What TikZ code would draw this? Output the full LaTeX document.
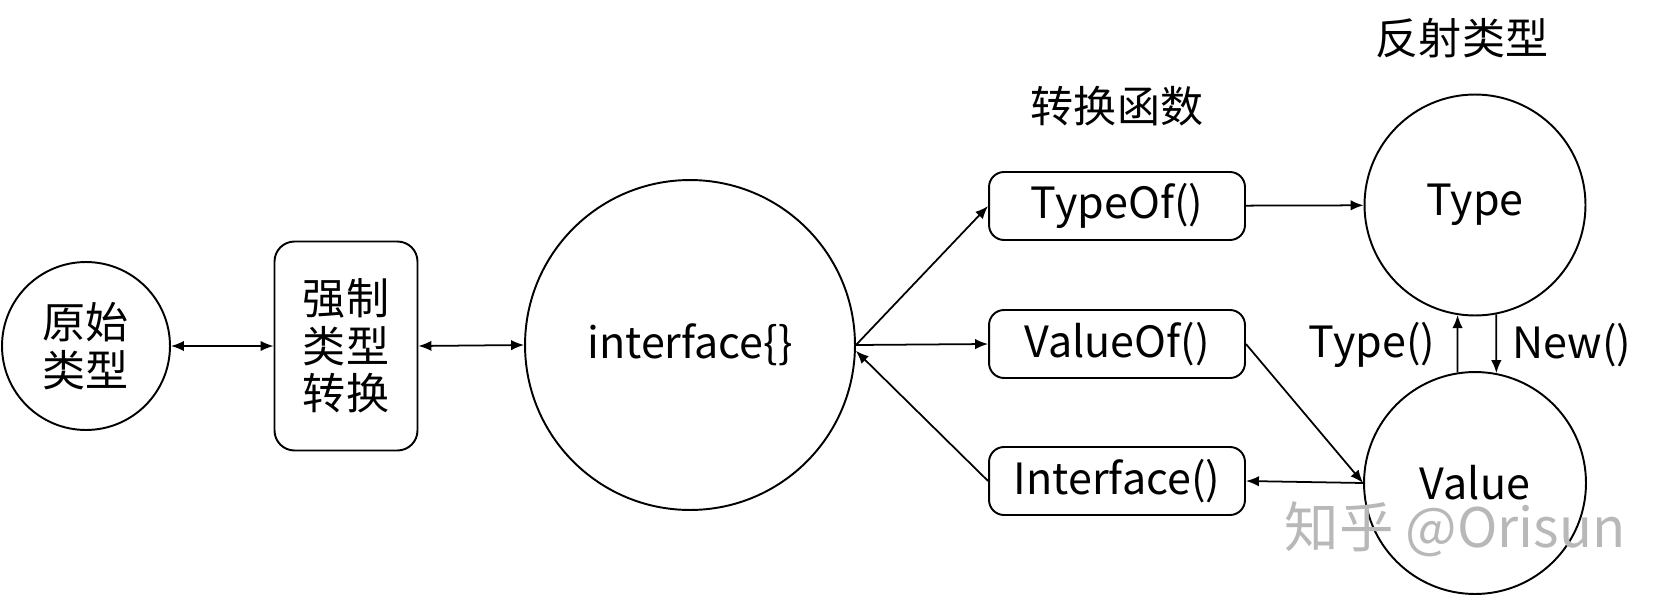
\documentclass[tikz,border=0pt]{standalone}
\usepackage{fontspec}
\setmainfont{Noto Sans CJK SC}
\usetikzlibrary{arrows.meta,positioning}
\tikzset{%
    >={Latex[length=2.6mm,width=2.1mm]},
    every node/.style={font=\fontsize{24.5}{27}\selectfont},
    ring/.style={circle,draw,line width=1.1pt,inner sep=0pt},
    fnbox/.style={rectangle,draw,line width=1.1pt,rounded corners=3mm,minimum width=5.12cm,minimum height=1.36cm},
    link/.style={->,line width=1pt},
    wmark/.style={text=black!28,inner sep=0pt,font=\fontsize{31}{34}\selectfont}
}
\begin{document}
\begin{tikzpicture}[x=0.02cm,y=-0.02cm]
            \useasboundingbox (0,0) rectangle (1656,595);
            \node [ring,minimum size=3.36cm,align=center] (orig) at (86,346) {原始\\类型};
            \node [rectangle,draw,line width=1.1pt,rounded corners=4mm,minimum width=2.86cm,minimum height=4.18cm,align=center] (cast) at (346,346) {强制\\类型\\转换};
            \node [ring,minimum size=6.6cm] (intf) at (690,345) {interface\{\}};
            \node [fnbox] (typeof) at (1117,206) {TypeOf()};
            \node [fnbox] (valueof) at (1117,344) {ValueOf()};
            \node [fnbox] (iface) at (1117,481) {Interface()};
            \node [ring,minimum size=4.42cm] (type) at (1475,205) {Type};
            \node [ring,minimum size=4.44cm] (value) at (1475,483) {Value};
            %%%%%
            \node (fn) at (1117,106) {转换函数};
            \node (refl) at (1462,38) {反射类型};
            \node (ltype) at (1372,345) {Type()};
            \node (lnew) at (1572,345) {New()};
            \node [wmark] (wm) at (1455,529) {知乎 @Orisun};
            %%%%%
            \path [link,<->] (orig) edge (cast)
            (cast.east) edge (intf.west);
            \path [link] (intf.east) edge (typeof.west)
            edge (valueof.west)
            (iface.west) edge (intf.-2)
            (typeof) edge (type)
            (valueof.east) edge (value.west)
            (value.west) edge (iface.east)
            (value.99) edge (type.261)
            (type.-79) edge (value.79);
\end{tikzpicture}
\end{document}
